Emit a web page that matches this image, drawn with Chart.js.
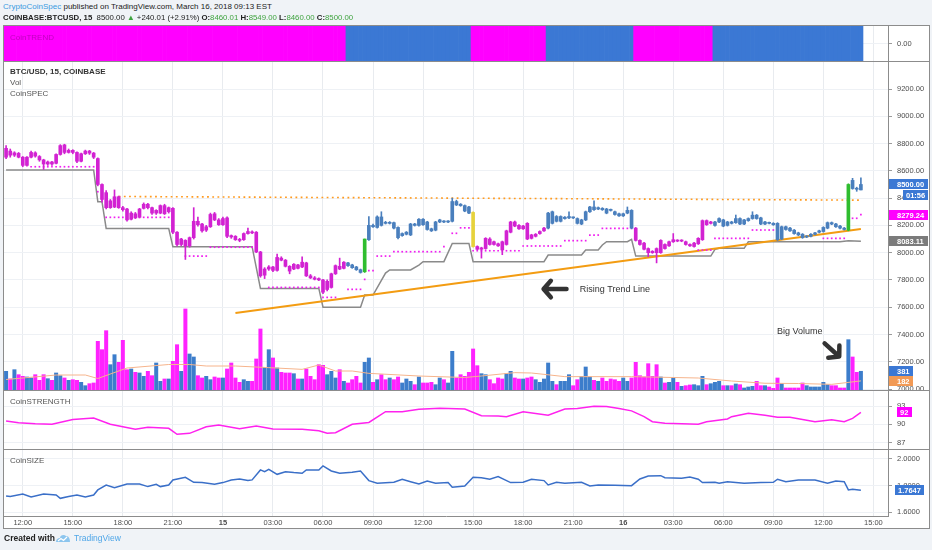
<!DOCTYPE html>
<html>
<head>
<meta charset="utf-8">
<script src="https://cdn.jsdelivr.net/npm/chart.js@4.4.0/dist/chart.umd.min.js"></script>
<style>
  html, body { margin: 0; padding: 0; }
  body { width: 932px; height: 550px; background: #f0f3f7; position: relative; overflow: hidden;
         font-family: "Liberation Sans", Arial, sans-serif; color: #222; }
  #frame { position: absolute; left: 3px; top: 25px; width: 925px; height: 502px; border: 1px solid #8c8c8c; background: #fff; }
  canvas { position: absolute; left: 4px; }
  .sep { position: absolute; left: 4px; width: 925px; height: 1px; background: #8c8c8c; }
  .txt { position: absolute; white-space: nowrap; z-index: 5; }
  #h1 { left: 3px; top: 2px; font-size: 8px; }
  #h2 { left: 3px; top: 13px; font-size: 7.8px; }
  .g { color: #3fa33f; }
  .pane { font-size: 8px; color: #555; left: 10px; }
</style>
</head>
<body>
<div id="frame"></div>
<canvas id="trend" width="924" height="35" style="top:26px"></canvas>
<div class="sep" style="top:61px"></div>
<canvas id="main" width="924" height="328" style="top:62px"></canvas>
<div class="sep" style="top:390px"></div>
<canvas id="strength" width="924" height="58" style="top:391px"></canvas>
<div class="sep" style="top:449px"></div>
<canvas id="size" width="924" height="78" style="top:450px"></canvas>

<div class="txt" id="h1"><span style="color:#3b9ae1">CryptoCoinSpec</span> published on TradingView.com, March 16, 2018 09:13 EST</div>
<div class="txt" id="h2"><b>COINBASE:BTCUSD, 15</b>&nbsp; 8500.00 <span class="g">▲</span> +240.01 (+2.91%) <b>O:</b><span class="g">8460.01</span> <b>H:</b><span class="g">8549.00</span> <b>L:</b><span class="g">8460.00</span> <b>C:</b><span class="g">8500.00</span></div>
<div class="txt pane" style="top:33px;color:#c000c0">CoinTREND</div>
<div class="txt pane" style="top:67px;color:#333;font-weight:bold">BTC/USD, 15, COINBASE</div>
<div class="txt pane" style="top:78px">Vol</div>
<div class="txt pane" style="top:89px">CoinSPEC</div>
<div class="txt pane" style="top:397px">CoinSTRENGTH</div>
<div class="txt pane" style="top:456px">CoinSIZE</div>
<div class="txt" style="left:4px;top:533px;font-size:8.5px;font-weight:bold">Created with</div>
<svg class="txt" style="left:55px;top:534px" width="16" height="9" viewBox="0 0 16 9">
  <path d="M1 8 C1 5 3 4 5 4 C5 1 9 0 11 2 C14 2 15 5 15 8 Z" fill="#8cc5ee"/>
  <path d="M3 7 L6 4.5 L8.5 6.5 L12 3" stroke="#fff" stroke-width="1.2" fill="none"/>
</svg>
<div class="txt" style="left:74px;top:533px;font-size:8.5px;color:#4fa6e8">TradingView</div>

<script>
// 15-minute slots, slot 0 = Mar 14 11:00; the last slots are empty right margin
const NSLOT = 212;
const FIRST_TICK = 4;
const TICK_EVERY = 12;
const tickLabels = ['12:00', '15:00', '18:00', '21:00', '15', '03:00', '06:00', '09:00', '12:00',
                    '15:00', '18:00', '21:00', '16', '03:00', '06:00', '09:00', '12:00', '15:00'];
const dayLabels = ['15', '16'];

// [open, high, low, close] per 15 min bar
const candles = [
  [8700,8785,8690,8765],[8745,8760,8700,8715],[8715,8740,8705,8732],[8728,8735,8695,8700],[8700,8705,8630,8640],
  [8640,8705,8635,8700],[8700,8745,8695,8735],[8732,8740,8700,8708],[8705,8712,8670,8680],[8680,8685,8610,8650],
  [8650,8672,8640,8665],[8665,8670,8640,8650],[8655,8725,8650,8720],[8720,8792,8715,8785],[8790,8795,8725,8735],
  [8735,8760,8730,8750],[8750,8755,8725,8735],[8735,8740,8660,8670],[8670,8730,8665,8725],[8725,8752,8720,8745],
  [8745,8750,8720,8730],[8730,8735,8690,8700],[8690,8695,8490,8500],[8500,8505,8370,8390],[8440,8455,8320,8330],
  [8330,8390,8325,8380],[8335,8460,8330,8410],[8410,8415,8325,8330],[8330,8340,8305,8315],[8320,8325,8230,8240],
  [8245,8300,8240,8290],[8285,8295,8250,8255],[8260,8325,8255,8320],[8325,8365,8320,8355],[8355,8362,8320,8330],
  [8330,8335,8280,8290],[8290,8315,8280,8310],[8290,8350,8285,8345],[8345,8355,8280,8285],[8300,8335,8290,8330],
  [8325,8330,8140,8150],[8150,8155,8050,8060],[8060,8105,8050,8100],[8090,8095,7950,8050],[8050,8115,8040,8110],
  [8110,8330,8100,8230],[8230,8260,8195,8205],[8210,8215,8150,8160],[8165,8200,8155,8190],[8190,8290,8185,8280],
  [8285,8295,8235,8240],[8240,8250,8200,8205],[8205,8260,8200,8250],[8255,8262,8110,8120],[8125,8130,8105,8115],
  [8120,8125,8090,8095],[8095,8105,8080,8090],[8095,8145,8090,8140],[8140,8180,8135,8155],[8150,8160,8140,8145],
  [8150,8155,8000,8005],[8005,8010,7820,7830],[7835,7890,7810,7880],[7880,7905,7870,7895],[7895,7900,7860,7870],
  [7870,7990,7865,7965],[7960,7970,7940,7945],[7945,7950,7895,7900],[7900,7905,7845,7865],[7880,7920,7875,7915],
  [7910,7915,7880,7885],[7895,7970,7890,7930],[7925,7930,7825,7830],[7830,7840,7810,7815],[7815,7825,7800,7805],
  [7810,7815,7795,7800],[7800,7805,7700,7710],[7730,7800,7720,7790],[7745,7850,7740,7845],[7845,7910,7840,7905],
  [7900,7960,7875,7880],[7885,7935,7880,7930],[7925,7930,7900,7905],[7910,7915,7885,7890],[7895,7900,7870,7875],
  [7875,7880,7850,7855],[7860,8100,7855,8100],[8095,8265,8090,8200],[8200,8210,8185,8190],[8185,8270,8180,8262],
  [8262,8300,8195,8200],[8220,8230,8210,8215],[8215,8228,8210,8222],[8220,8225,8175,8180],[8185,8190,8100,8110],
  [8125,8145,8120,8140],[8135,8155,8130,8150],[8130,8215,8125,8210],[8210,8215,8195,8200],[8200,8250,8195,8245],
  [8245,8250,8200,8205],[8225,8230,8165,8170],[8175,8180,8155,8160],[8165,8230,8160,8225],[8225,8245,8220,8240],
  [8230,8235,8220,8225],[8225,8235,8220,8230],[8230,8400,8225,8375],[8375,8385,8345,8350],[8355,8360,8340,8345],
  [8345,8350,8300,8305],[8335,8340,8285,8290],[8295,8300,8040,8045],[8045,8050,8020,8025],[8025,8040,7960,8035],
  [8030,8110,8025,8105],[8100,8110,8055,8060],[8080,8085,8055,8060],[8065,8070,8045,8050],[8080,8085,7985,8020],
  [8060,8165,8055,8160],[8150,8230,8145,8225],[8225,8232,8190,8195],[8200,8205,8170,8175],[8175,8200,8170,8195],
  [8215,8220,8095,8100],[8130,8135,8100,8105],[8120,8140,8115,8135],[8140,8160,8135,8155],[8160,8185,8155,8180],
  [8180,8295,8175,8290],[8215,8305,8210,8300],[8265,8272,8225,8230],[8230,8270,8225,8265],[8250,8265,8245,8260],
  [8255,8300,8250,8265],[8258,8262,8250,8255],[8250,8255,8210,8215],[8210,8245,8205,8240],[8240,8305,8235,8300],
  [8300,8340,8295,8335],[8335,8380,8310,8315],[8320,8335,8315,8330],[8325,8330,8310,8315],[8320,8325,8285,8290],
  [8315,8320,8305,8310],[8300,8305,8275,8280],[8285,8290,8265,8270],[8270,8290,8265,8285],[8290,8335,8285,8310],
  [8310,8315,8175,8180],[8180,8185,8085,8090],[8090,8095,8055,8060],[8070,8075,8020,8025],[8030,8035,7970,8000],
  [8010,8015,7995,8000],[8030,8035,7925,8000],[8000,8095,7995,8090],[8060,8065,8025,8030],[8050,8085,8045,8080],
  [8080,8140,8075,8095],[8090,8095,8080,8085],[8085,8095,8080,8090],[8080,8085,8055,8060],[8060,8065,8045,8050],
  [8045,8075,8040,8070],[8065,8110,8060,8105],[8095,8240,8090,8235],[8235,8240,8200,8205],[8215,8230,8210,8225],
  [8200,8230,8195,8225],[8225,8255,8220,8250],[8240,8245,8190,8195],[8200,8230,8195,8225],[8225,8230,8210,8215],
  [8220,8276,8215,8250],[8250,8255,8205,8210],[8210,8245,8205,8240],[8235,8255,8230,8250],[8250,8300,8245,8275],
  [8275,8280,8245,8250],[8255,8260,8205,8210],[8210,8230,8205,8225],[8220,8225,8210,8215],[8215,8220,8200,8205],
  [8215,8220,8090,8095],[8100,8195,8095,8190],[8190,8195,8165,8170],[8180,8185,8155,8160],[8165,8170,8135,8140],
  [8145,8150,8125,8130],[8135,8140,8105,8110],[8115,8125,8110,8120],[8120,8140,8115,8135],[8135,8150,8130,8145],
  [8150,8165,8145,8160],[8155,8190,8150,8185],[8180,8225,8175,8220],[8220,8225,8205,8210],[8210,8215,8185,8190],
  [8195,8200,8175,8180],[8180,8185,8165,8170],[8165,8505,8160,8500],[8530,8545,8465,8470],[8470,8480,8450,8465],
  [8460.01,8549,8460,8500]
];

const volumes = [
  380,227,413,313,280,267,247,313,200,313,  233,200,347,293,247,200,213,200,160,93,
  133,147,980,813,1193,513,713,560,1000,413,  427,360,347,280,380,293,547,180,227,227,
  580,913,380,1627,727,667,293,247,280,213,  267,247,247,427,547,247,160,213,180,180,
  627,1227,460,813,647,447,360,347,347,333,  227,227,427,280,213,513,500,313,380,247,
  413,180,147,213,280,147,560,647,160,213,  313,213,247,213,267,147,227,180,113,267,
  147,147,160,113,247,213,147,780,247,313,  280,360,827,493,333,313,213,133,247,227,
  333,380,247,227,227,247,267,213,160,227,  547,180,113,180,180,313,93,213,280,467,
  267,200,180,247,180,227,213,180,247,180,  247,560,293,267,533,280,513,267,147,160,
  247,160,80,93,107,113,93,280,113,133,  160,180,93,93,93,127,113,47,67,80,
  180,93,93,67,40,247,133,47,47,47,  47,147,93,67,67,67,160,113,93,93,
  47,47,1013,667,360,381
];
const volumeAvg = [[0,210],[12,300],[19,300],[22,230],[29,440],[39,510],[44,510],[48,480],[55,480],[63,447],
  [71,413],[75,500],[79,380],[83,380],[87,333],[99,280],[110,250],[114,280],[122,347],[126,340],[129,313],
  [134,267],[150,267],[166,240],[174,180],[182,135],[190,130],[198,113],[205,182]];

// CoinTREND state runs: [fromSlot, toSlot, state]
const trendRuns = [[0,81,-1],[82,111,1],[112,129,-1],[130,150,1],[151,169,-1],[170,205,1]];
const signalBars = { 86: 'buy', 112: 'sell', 202: 'buy' };

// CoinSPEC lines
const stepLine = [[0,8606],[21,8606],[22,8374],[23,8374],[24,8178],[39,8178],[40,8044],[59,8044],[61,7738],
  [75,7738],[76,7600],[85,7600],[86,7689],[88,7689],[91,7850],[92,7873],[97,7873],[99,7909],[100,7934],
  [105,7934],[107,8068],[111,8068],[112,7934],[129,7934],[130,7983],[138,7983],[139,8019],[142,8019],
  [143,8056],[144,8080],[149,8080],[150,8097],[151,7975],[169,7975],[170,8024],[171,8032],[177,8032],
  [178,8080],[200,8080],[202,8088],[205,8083.11]];
const dotRuns = [[6,21,8630],[22,22,8447],[23,23,8386],[24,39,8259],[43,48,7975],[49,59,8040],[63,75,7745],
  [76,79,7672],[82,85,7731],[86,86,7804],[87,88,7868],[89,92,7975],[93,104,8007],[105,105,8044],[107,108,8142],
  [109,111,8182],[112,123,8014],[124,133,8049],[134,139,8088],[140,142,8129],[143,150,8178],[166,169,8019],
  [170,178,8105],[179,184,8166],[196,201,8105],[203,204,8252],[205,205,8279.24]];
const resistance = [[27,8412],[205,8385]];
const risingTrend = [[55,7557],[205,8173]];

const strength = [[0,90.55],[3,90.27],[7,90.1],[11,90.0],[16,90.8],[21,91.03],[25,90.0],[31,89.18],[34,89.5],
  [39,89.34],[41,88.36],[44,88.52],[48,89.6],[51,89.9],[56,89.28],[60,89.72],[64,89.23],[71,89.18],[75,88.95],
  [77,88.52],[79,88.62],[83,90.0],[87,90.3],[91,92.07],[95,92.07],[99,92.46],[104,92.62],[110,92.5],[114,91.4],
  [118,91.36],[120,91.25],[124,92.07],[130,91.5],[134,92.5],[137,92.6],[141,92.95],[144,92.9],[147,92.6],
  [150,92.2],[153,91.25],[155,90.43],[158,90.16],[166,90.0],[168,90.43],[173,90.87],[174,91.25],[178,91.8],
  [182,91.5],[185,91.15],[188,91.15],[194,90.43],[198,90.75],[201,90.43],[203,90.98],[205,91.97]];

const coinSize = [[0,1.723],[1,1.718],[4,1.738],[6,1.715],[9,1.738],[12,1.73],[13,1.705],[15,1.718],[17,1.73],
  [19,1.715],[21,1.73],[22,1.768],[24,1.805],[26,1.785],[29,1.813],[32,1.813],[34,1.793],[36,1.81],[37,1.793],
  [39,1.805],[40,1.843],[43,1.863],[45,1.825],[47,1.823],[50,1.81],[52,1.823],[54,1.843],[56,1.85],[58,1.838],
  [59,1.843],[61,1.918],[62,1.905],[63,1.923],[65,1.885],[67,1.905],[69,1.898],[71,1.893],[72,1.918],[75,1.918],
  [76,1.948],[78,1.91],[80,1.893],[83,1.9],[85,1.91],[87,1.838],[89,1.818],[93,1.825],[95,1.848],[97,1.83],
  [99,1.813],[101,1.835],[103,1.818],[106,1.823],[107,1.788],[110,1.798],[112,1.863],[114,1.86],[116,1.848],
  [118,1.868],[121,1.823],[124,1.825],[126,1.848],[129,1.838],[130,1.805],[132,1.825],[134,1.818],[138,1.825],
  [140,1.798],[142,1.805],[146,1.803],[150,1.8],[152,1.85],[154,1.873],[157,1.875],[158,1.86],[162,1.855],
  [164,1.865],[166,1.848],[167,1.823],[170,1.825],[171,1.818],[173,1.83],[177,1.818],[181,1.823],[184,1.825],
  [185,1.848],[187,1.83],[190,1.843],[194,1.843],[197,1.818],[199,1.835],[201,1.83],[202,1.768],[203,1.773],
  [205,1.7647]];

const priceTicks = [7000, 7200, 7400, 7600, 7800, 8000, 8200, 8400, 8600, 8800, 9000, 9200];
const strengthTicks = [93, 90, 87];
const sizeTicks = [2.0, 1.8, 1.6];

// notes drawn on the price pane: [slot, price]
const notes = [
  { text: 'Rising Trend Line', at: [137.6, 7733], arrowFrom: [134.4, 7733], arrowTo: [128.9, 7733] },
  { text: 'Big Volume', at: [184.9, 7422], arrowFrom: [196.3, 7335], arrowTo: [199.8, 7238] }
];

const MAGENTA = '#ff00ff';
const BLUE = '#3b78d4';
const FONT = '"Liberation Sans", Arial, sans-serif';
Chart.defaults.font.family = FONT;
Chart.defaults.font.size = 7.5;

const slots = Array.from({ length: NSLOT }, (_, i) => i);
const last = candles.length - 1;

function tickAt(i) {
  const k = (i - FIRST_TICK) / TICK_EVERY;
  return Number.isInteger(k) && k >= 0 && k < tickLabels.length ? tickLabels[k] : null;
}

function fromPoints(pts) {
  const a = new Array(NSLOT).fill(null);
  pts.forEach(([i, v]) => { a[i] = v; });
  return a;
}

function fromRuns(runs) {
  const a = new Array(NSLOT).fill(null);
  runs.forEach(([s, e, v]) => { for (let i = s; i <= e; i++) a[i] = v; });
  return a;
}

const trendState = fromRuns(trendRuns);

function candleColor(i) {
  if (signalBars[i] === 'buy') return '#2fbd2f';
  if (signalBars[i] === 'sell') return '#e6d23c';
  return trendState[i] > 0 ? '#4a7fbd' : '#d222d2';
}

function xAxis(labels) {
  return {
    type: 'category',
    offset: true,
    grid: { offset: false, drawTicks: false, color: ctx => tickAt(ctx.index) !== null ? '#e8ebef' : 'rgba(0,0,0,0)' },
    border: { display: labels, color: '#8c8c8c' },
    ticks: {
      display: labels, autoSkip: false, maxRotation: 0, padding: 2, color: '#4d4d4d',
      font: ctx => ({ size: 7.5, weight: dayLabels.includes(tickAt(ctx.index)) ? 'bold' : 'normal' }),
      callback: (v, i) => tickAt(i) || ''
    },
    afterFit: axis => {
      axis.height = labels ? 12 : 0;
      axis.paddingLeft = 0; axis.paddingRight = 0;
    }
  };
}

function rightAxis(min, max, ticks, digits) {
  return {
    position: 'right', min, max,
    afterBuildTicks: axis => { axis.ticks = ticks.map(v => ({ value: v })); },
    afterFit: axis => {
      axis.width = 40;
      axis.paddingTop = 0; axis.paddingBottom = 0;
    },
    grid: { color: '#eef1f5', tickLength: 4, tickColor: '#9b9b9b' },
    border: { color: '#8c8c8c' },
    ticks: { color: '#4d4d4d', padding: 5, font: { size: 7.5 }, callback: v => v.toFixed(digits) }
  };
}

function drawTag(chart, scaleId, value, text, bg, opt) {
  const o = opt || {};
  const ctx = chart.ctx;
  const y = Math.round(chart.scales[scaleId].getPixelForValue(value) + (o.dy || 0));
  const x = chart.chartArea.right + (o.left || 1);
  ctx.save();
  ctx.fillStyle = bg;
  ctx.fillRect(x, y - 5, o.width || 39, 10);
  ctx.fillStyle = '#fff';
  ctx.font = 'bold 7.5px ' + FONT;
  ctx.textBaseline = 'middle';
  ctx.textAlign = 'left';
  ctx.fillText(text, x + (o.pad == null ? 8 : o.pad), y + 0.5);
  ctx.restore();
}

function drawArrow(ctx, x1, y1, x2, y2) {
  const a = Math.atan2(y2 - y1, x2 - x1);
  const h = 11;
  ctx.beginPath();
  ctx.moveTo(x1, y1);
  ctx.lineTo(x2 - 2 * Math.cos(a), y2 - 2 * Math.sin(a));
  ctx.moveTo(x2 - h * Math.cos(a - 0.85), y2 - h * Math.sin(a - 0.85));
  ctx.lineTo(x2, y2);
  ctx.lineTo(x2 - h * Math.cos(a + 0.85), y2 - h * Math.sin(a + 0.85));
  ctx.stroke();
}

const baseOptions = {
  responsive: false,
  animation: false,
  events: [],
  layout: { padding: 0, autoPadding: false },
  plugins: { legend: { display: false }, tooltip: { enabled: false } }
};

// CoinTREND pane
new Chart(document.getElementById('trend'), {
  type: 'bar',
  data: {
    labels: slots,
    datasets: [{
      data: candles.map(() => [-1, 1]),
      backgroundColor: trendState.map(s => s > 0 ? BLUE : MAGENTA),
      barPercentage: 1, categoryPercentage: 1, borderWidth: 0
    }]
  },
  options: {
    ...baseOptions,
    scales: { x: xAxis(false), y: rightAxis(-1, 1, [0], 2) }
  }
});

// price pane with volume
const volColors = candles.map(c => c[3] >= c[0] ? '#3c7dcb' : '#ff22ff');
const barColors = candles.map((c, i) => candleColor(i));

new Chart(document.getElementById('main'), {
  type: 'bar',
  data: {
    labels: slots,
    datasets: [
      { type: 'bar', yAxisID: 'vol', data: volumes, backgroundColor: volColors,
        barPercentage: 0.96, categoryPercentage: 1, grouped: false, order: 9 },
      { type: 'line', yAxisID: 'vol', data: fromPoints(volumeAvg), borderColor: '#f6b48c', borderWidth: 1,
        pointRadius: 0, spanGaps: true, order: 8 },
      { type: 'line', yAxisID: 'price', data: fromPoints(stepLine), borderColor: '#8a8a8a', borderWidth: 1.5,
        pointRadius: 0, spanGaps: true, order: 7 },
      { type: 'line', yAxisID: 'price', data: fromPoints(resistance), borderColor: '#ff9a1f', borderWidth: 1.6,
        borderDash: [1.8, 3.4], pointRadius: 0, spanGaps: true, order: 6 },
      { type: 'line', yAxisID: 'price', data: fromPoints(risingTrend), borderColor: '#f39c12', borderWidth: 2,
        pointRadius: 0, spanGaps: true, order: 5 },
      { type: 'line', yAxisID: 'price', data: fromRuns(dotRuns), showLine: false, pointStyle: 'rect',
        pointRadius: 1.2, pointBackgroundColor: '#f01ef0', pointBorderWidth: 0, order: 4 },
      { type: 'bar', yAxisID: 'price', data: candles.map(c => [c[2], c[1]]), backgroundColor: barColors,
        barThickness: 1, grouped: false, order: 3 },
      { type: 'bar', yAxisID: 'price', data: candles.map(c => [c[0], c[3]]), backgroundColor: barColors,
        barThickness: 3, minBarLength: 1, grouped: false, order: 2 }
    ]
  },
  options: {
    ...baseOptions,
    scales: {
      x: xAxis(false),
      price: rightAxis(6993, 9398, priceTicks, 2),
      vol: { display: false, min: 0, max: 6560 }
    }
  },
  plugins: [{
    id: 'notesAndTags',
    afterDraw(chart) {
      const ctx = chart.ctx, sx = chart.scales.x, sy = chart.scales.price;
      ctx.save();
      ctx.strokeStyle = '#333';
      ctx.lineWidth = 4.5;
      ctx.lineCap = 'round';
      ctx.lineJoin = 'round';
      ctx.fillStyle = '#333';
      ctx.font = '9px ' + FONT;
      ctx.textBaseline = 'middle';
      notes.forEach(n => {
        ctx.fillText(n.text, sx.getPixelForValue(n.at[0]), sy.getPixelForValue(n.at[1]));
        drawArrow(ctx, sx.getPixelForValue(n.arrowFrom[0]), sy.getPixelForValue(n.arrowFrom[1]),
                  sx.getPixelForValue(n.arrowTo[0]), sy.getPixelForValue(n.arrowTo[1]));
      });
      ctx.restore();
      const close = candles[last][3];
      drawTag(chart, 'price', close, close.toFixed(2), BLUE);
      drawTag(chart, 'price', close, '01:56', BLUE, { dy: 11, left: 15, width: 25, pad: 3 });
      const dots = fromRuns(dotRuns);
      drawTag(chart, 'price', dots[last], dots[last].toFixed(2), MAGENTA);
      const step = stepLine[stepLine.length - 1][1];
      drawTag(chart, 'price', step, step.toFixed(2), '#7b7b7b');
      drawTag(chart, 'vol', volumes[last], String(volumes[last]), BLUE, { width: 24 });
      const avg = volumeAvg[volumeAvg.length - 1][1];
      drawTag(chart, 'vol', avg, String(avg), '#f29a55', { width: 24 });
    }
  }]
});

// CoinSTRENGTH pane
new Chart(document.getElementById('strength'), {
  type: 'line',
  data: {
    labels: slots,
    datasets: [{ data: fromPoints(strength), borderColor: '#ff22ee', borderWidth: 1.5, pointRadius: 0, spanGaps: true }]
  },
  options: {
    ...baseOptions,
    scales: { x: xAxis(false), y: rightAxis(85.95, 95.46, strengthTicks, 0) }
  },
  plugins: [{
    id: 'strengthTag',
    afterDraw(chart) {
      const v = strength[strength.length - 1][1];
      drawTag(chart, 'y', v, v.toFixed(0), MAGENTA, { left: 9, width: 15, pad: 3 });
    }
  }]
});

// CoinSIZE pane with the time axis
new Chart(document.getElementById('size'), {
  type: 'line',
  data: {
    labels: slots,
    datasets: [{ data: fromPoints(coinSize), borderColor: '#3a6fc8', borderWidth: 1.5, pointRadius: 0, spanGaps: true }]
  },
  options: {
    ...baseOptions,
    scales: { x: xAxis(true), y: rightAxis(1.5724, 2.0675, sizeTicks, 4) }
  },
  plugins: [{
    id: 'sizeTag',
    afterDraw(chart) {
      const v = coinSize[coinSize.length - 1][1];
      drawTag(chart, 'y', v, v.toFixed(4), BLUE, { left: 7, width: 29, pad: 3 });
    }
  }]
});
</script>
</body>
</html>
